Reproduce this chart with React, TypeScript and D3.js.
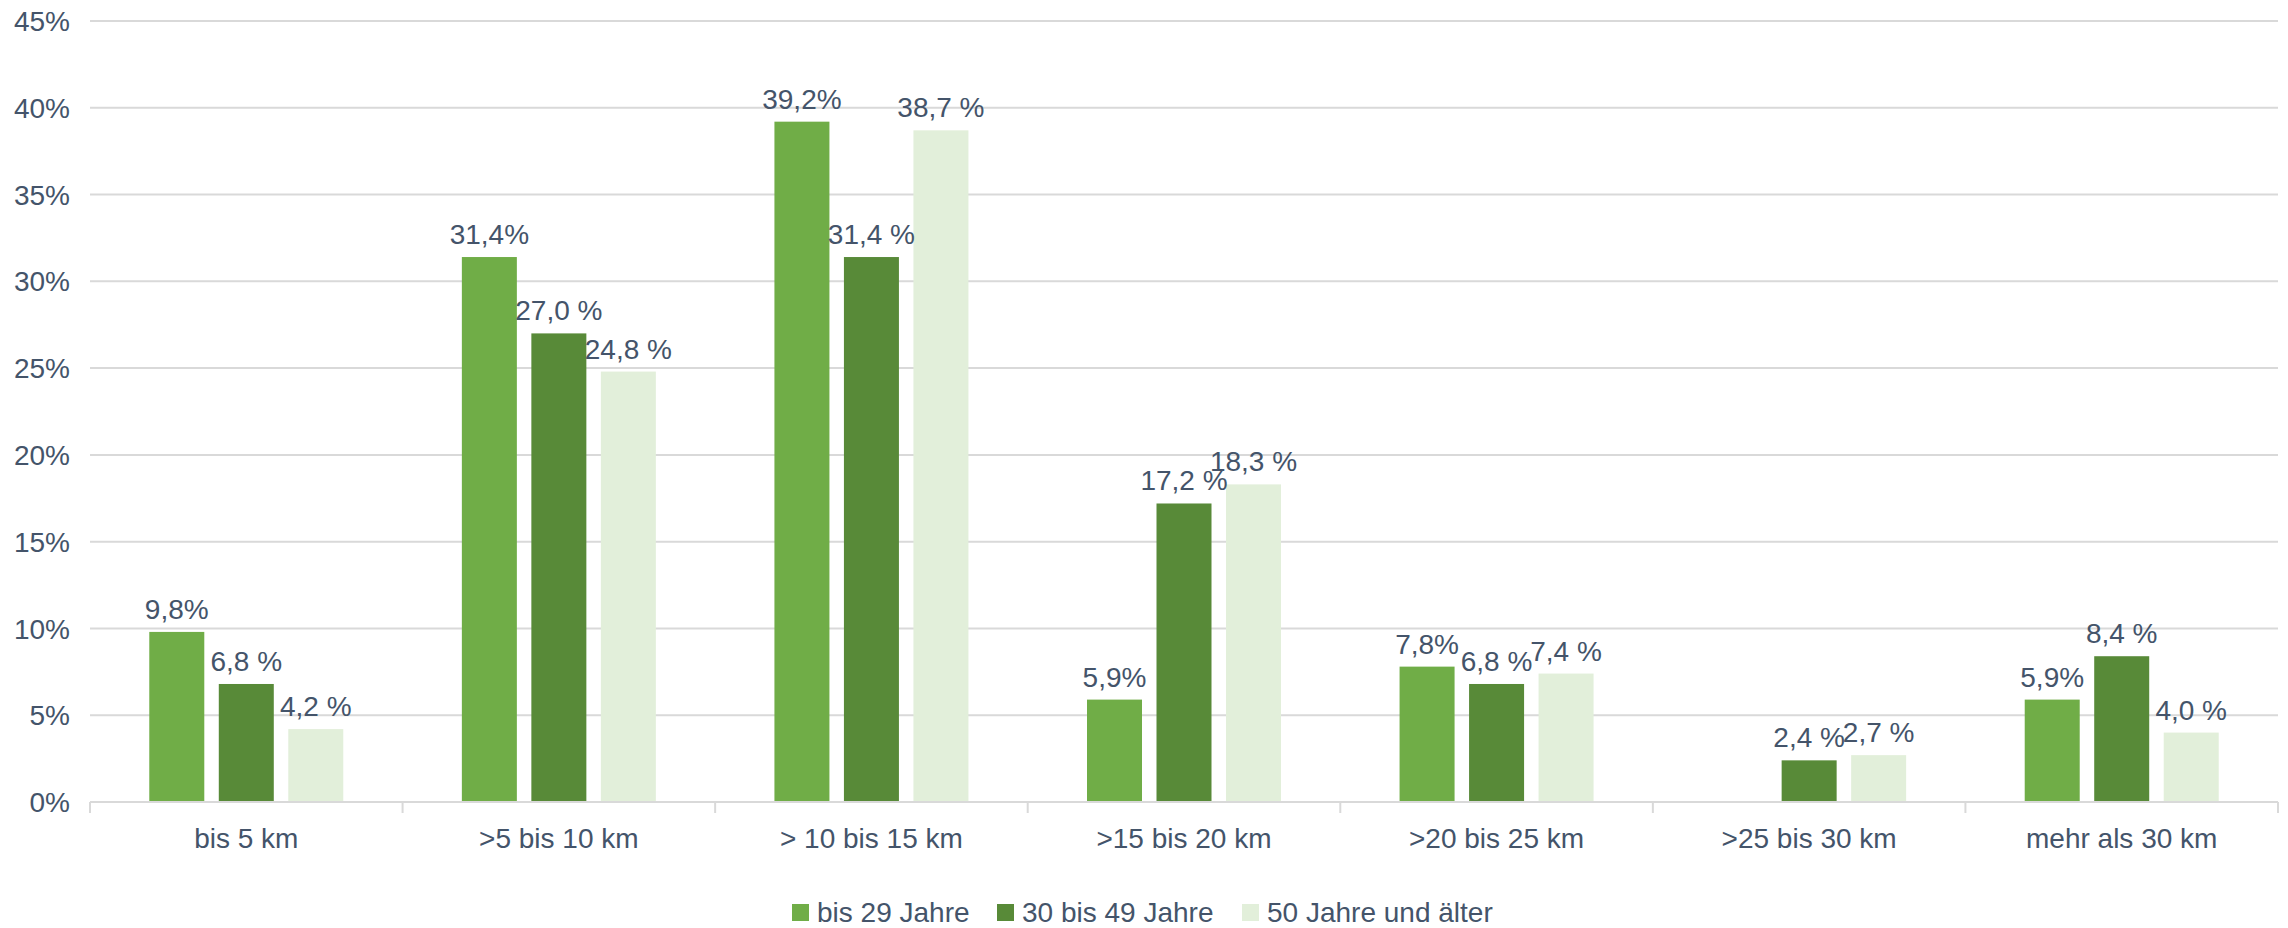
import React from "react";
import * as d3 from "d3";

const categories = [
  "bis 5 km",
  ">5 bis 10 km",
  "> 10 bis 15 km",
  ">15 bis 20 km",
  ">20 bis 25 km",
  ">25 bis 30 km",
  "mehr als 30 km",
];
const seriesNames = ["bis 29 Jahre", "30 bis 49 Jahre", "50 Jahre und älter"];
const seriesColors = ["#70AD47", "#588A38", "#E2EFDA"];
const bis29: (number | null)[] = [9.8, 31.4, 39.2, 5.9, 7.8, null, 5.9];
const mid3049: (number | null)[] = [6.8, 27.0, 31.4, 17.2, 6.8, 2.4, 8.4];
const ab50: (number | null)[] = [4.2, 24.8, 38.7, 18.3, 7.4, 2.7, 4.0];
const seriesValues = [bis29, mid3049, ab50];
const labelSuffix = ["%", " %", " %"];
const yTicks = [0, 5, 10, 15, 20, 25, 30, 35, 40, 45];

const W = 2288;
const H = 928;
const margin = { left: 90, right: 10, top: 21, bottom: 126 };
const TEXT = "#44546A";
const GRID = "#D9D9D9";
const FONT = "'Liberation Sans', Arial, sans-serif";

export default function App() {
  const x0 = d3
    .scaleBand<string>()
    .domain(categories)
    .range([margin.left, W - margin.right])
    .paddingInner(0)
    .paddingOuter(0);
  const step = x0.bandwidth();
  const groupW = 194;
  const x1 = d3
    .scaleBand<string>()
    .domain(seriesNames)
    .range([(step - groupW) / 2, (step + groupW) / 2])
    .paddingInner(0.2086)
    .paddingOuter(0);
  const y = d3
    .scaleLinear()
    .domain([0, 45])
    .range([H - margin.bottom, margin.top]);
  const fmt = (v: number) => v.toFixed(1).replace(".", ",");

  // legend layout
  const fontSize = 28;
  const sq = 17;
  const legendWidths = [158, 198, 221];
  const gapText = 8;
  const gapItem = 22;
  const totalLegend =
    legendWidths.reduce((a, b) => a + b, 0) +
    seriesNames.length * (sq + gapText) +
    (seriesNames.length - 1) * gapItem;
  let lx = W / 2 - totalLegend / 2 - 4;
  const legendItems = seriesNames.map((n, i) => {
    const item = { name: n, x: lx, color: seriesColors[i] };
    lx += sq + gapText + legendWidths[i] + gapItem;
    return item;
  });

  return (
    <svg
      width={W}
      height={H}
      style={{ position: "fixed", left: 0, top: 0, background: "#fff" }}
      fontFamily={FONT}
    >
      <rect x={0} y={0} width={W} height={H} fill="#fff" />
      {yTicks.map((t) => (
        <g key={t}>
          {t > 0 && (
            <line
              x1={margin.left}
              x2={W - margin.right}
              y1={y(t)}
              y2={y(t)}
              stroke={GRID}
              strokeWidth={2}
            />
          )}
          <text
            x={70}
            y={y(t)}
            dy="0.36em"
            textAnchor="end"
            fontSize={fontSize}
            fill={TEXT}
          >
            {t}%
          </text>
        </g>
      ))}
      {categories.map((c, ci) => (
        <g key={c} transform={`translate(${x0(c)},0)`}>
          {seriesValues.map((vals, si) => {
            const v = vals[ci];
            if (v === null) return null;
            const bx = x1(seriesNames[si])!;
            const bw = x1.bandwidth();
            return (
              <rect
                key={si}
                x={bx}
                y={y(v)}
                width={bw}
                height={y(0) - y(v)}
                fill={seriesColors[si]}
              />
            );
          })}
        </g>
      ))}
      {/* axis */}
      <line
        x1={margin.left}
        x2={W - margin.right}
        y1={y(0)}
        y2={y(0)}
        stroke={GRID}
        strokeWidth={2}
      />
      {d3.range(categories.length + 1).map((i) => {
        const tx = margin.left + i * step;
        return (
          <line
            key={i}
            x1={tx}
            x2={tx}
            y1={y(0)}
            y2={y(0) + 11}
            stroke={GRID}
            strokeWidth={2}
          />
        );
      })}
      {categories.map((c) => (
        <text
          key={c}
          x={x0(c)! + step / 2}
          y={848}
          textAnchor="middle"
          fontSize={fontSize}
          fill={TEXT}
        >
          {c}
        </text>
      ))}
      {/* data labels */}
      {categories.map((c, ci) => (
        <g key={"l" + c} transform={`translate(${x0(c)},0)`}>
          {seriesValues.map((vals, si) => {
            const v = vals[ci];
            if (v === null) return null;
            const bx = x1(seriesNames[si])! + x1.bandwidth() / 2;
            return (
              <text
                key={si}
                x={bx}
                y={y(v) - 13}
                textAnchor="middle"
                fontSize={fontSize}
                fill={TEXT}
              >
                {fmt(v) + labelSuffix[si]}
              </text>
            );
          })}
        </g>
      ))}
      {/* legend */}
      {legendItems.map((it) => (
        <g key={it.name}>
          <rect x={it.x} y={904} width={sq} height={sq} fill={it.color} />
          <text
            x={it.x + sq + gapText}
            y={922}
            fontSize={fontSize}
            fill={TEXT}
          >
            {it.name}
          </text>
        </g>
      ))}
    </svg>
  );
}
